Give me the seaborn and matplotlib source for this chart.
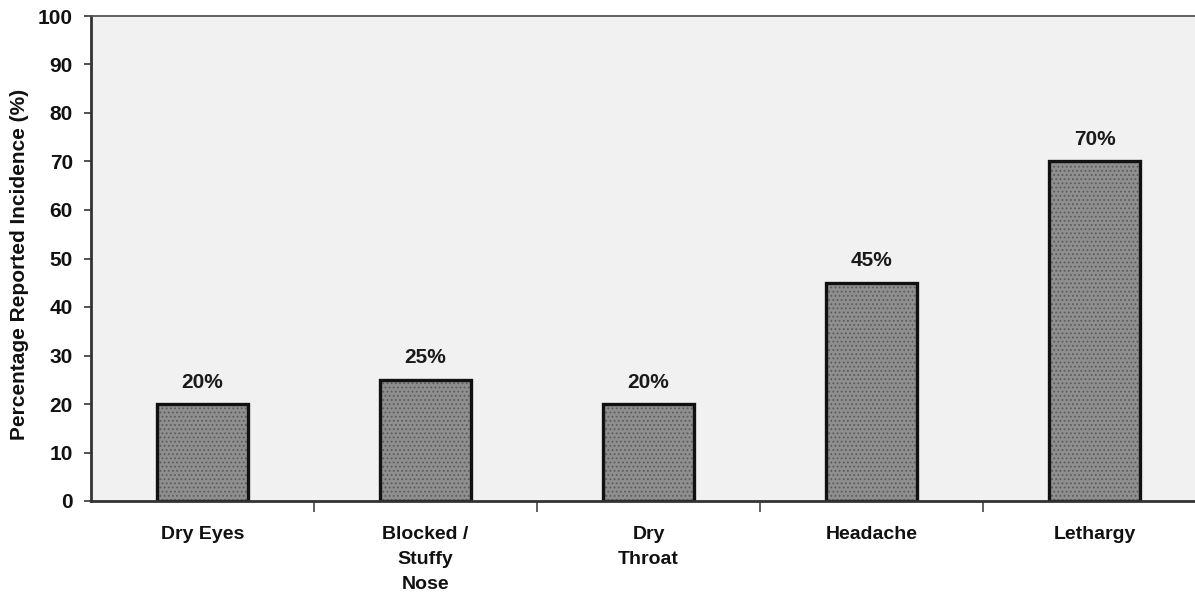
import matplotlib
matplotlib.use("Agg")
import matplotlib.pyplot as plt
import seaborn as sns
import pandas as pd
import numpy as np
from matplotlib.ticker import FixedLocator

categories = ["Dry Eyes", "Blocked /\nStuffy\nNose", "Dry\nThroat", "Headache", "Lethargy"]
incidence = [20, 25, 20, 45, 70]
yticks = [0, 10, 20, 30, 40, 50, 60, 70, 80, 90, 100]

df = pd.DataFrame({"symptom": categories, "pct": incidence})

sns.set_theme(style="white")
plt.rcParams["font.family"] = ["Liberation Sans", "DejaVu Sans"]
plt.rcParams["hatch.linewidth"] = 0.8

fig = plt.figure(figsize=(11.95, 5.98), dpi=100)
ax = fig.add_axes([91 / 1195, 97 / 598, (1195 - 91) / 1195, (501 - 16) / 598])
ax.set_facecolor("#f1f1f1")

sns.barplot(data=df, x="symptom", y="pct", ax=ax, width=0.41,
            color="#8f8f8f", saturation=1, edgecolor="#111111", linewidth=2.4)
for p in ax.patches:
    p.set_hatch("....")
    p._hatch_color = matplotlib.colors.to_rgba("#5c5c5c")

for cont in ax.containers:
    ax.bar_label(cont, labels=[f"{v:.0f}%" for v in cont.datavalues],
                 padding=9, fontsize=15, fontweight="semibold", color="#1a1a1a")

ax.set_ylim(0, 100)
ax.set_xlim(-0.5, -0.5 + (1195 - 91) / 223)
ax.yaxis.set_major_locator(FixedLocator(yticks))
ax.xaxis.set_minor_locator(FixedLocator(np.arange(0.5, len(categories) - 0.5, 1.0)))

ax.tick_params(axis="y", which="major", direction="out", length=5, width=1.2,
               color="#333333", labelsize=15, pad=8, left=True, labelcolor="#111111")
ax.tick_params(axis="x", which="major", length=0, pad=18, labelsize=14,
               labelcolor="#111111")
ax.tick_params(axis="x", which="minor", direction="out", length=8, width=1.2,
               color="#444444", bottom=True)
for lbl in ax.get_yticklabels():
    lbl.set_fontweight("bold")
for lbl in ax.get_xticklabels():
    lbl.set_fontweight("bold")
    lbl.set_verticalalignment("top")
    lbl.set_linespacing(1.6)

ax.set_xlabel("")
ax.set_ylabel("Percentage Reported Incidence (%)", fontsize=15, fontweight="heavy",
              color="#111111")
ax.yaxis.set_label_coords(-0.0565, 0.487)

for side in ["left", "bottom"]:
    ax.spines[side].set_color("#333333")
    ax.spines[side].set_linewidth(2)
ax.spines["top"].set_color("#555555")
ax.spines["top"].set_linewidth(1.3)
ax.spines["top"].set_linestyle((0, (2, 1)))
ax.spines["right"].set_visible(False)

fig.savefig("out.png", dpi=100)
